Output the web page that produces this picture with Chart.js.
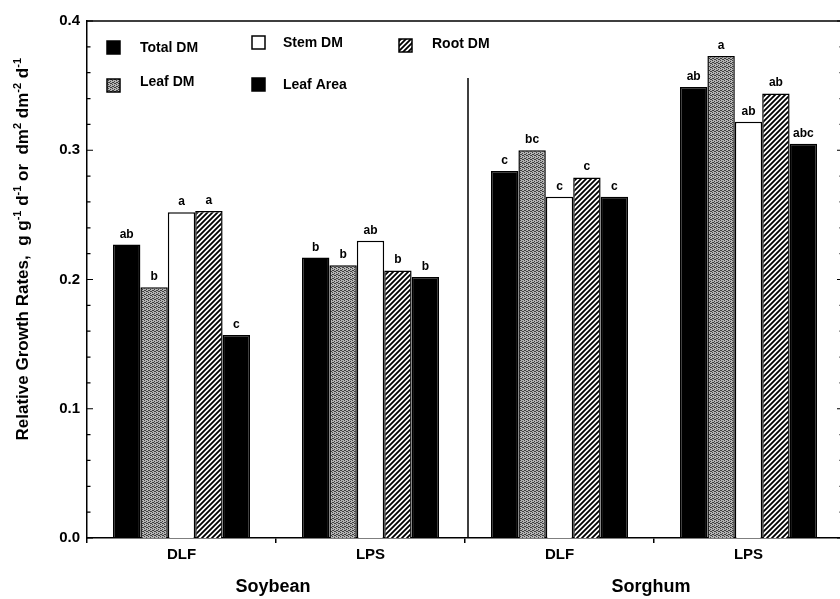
<!DOCTYPE html>
<html>
<head>
<meta charset="utf-8">
<title>Relative Growth Rates</title>
<script src="https://cdn.jsdelivr.net/npm/chart.js@4.4.0/dist/chart.umd.min.js"></script>
<style>
  html, body { margin: 0; padding: 0; background: #fff; overflow: hidden; }
  #wrap { width: 846px; height: 599px; }
</style>
</head>
<body>
<div id="wrap"><canvas id="rgr" width="846" height="599"></canvas></div>
<script>
// values
const groups = ['DLF', 'LPS', 'DLF', 'LPS'];
const crops = ['Soybean', 'Sorghum'];
const seriesNames = ['Total DM', 'Leaf DM', 'Stem DM', 'Root DM', 'Leaf Area'];
const totalDM = [0.227, 0.217, 0.284, 0.349];
const leafDM = [0.194, 0.211, 0.300, 0.373];
const stemDM = [0.252, 0.230, 0.264, 0.322];
const rootDM = [0.253, 0.207, 0.279, 0.344];
const leafArea = [0.157, 0.202, 0.264, 0.305];
const totalLetters = ['ab', 'b', 'c', 'ab'];
const leafLetters = ['b', 'b', 'bc', 'a'];
const stemLetters = ['a', 'ab', 'c', 'ab'];
const rootLetters = ['a', 'b', 'c', 'ab'];
const areaLetters = ['c', 'b', 'c', 'abc'];
const yTicks = [0.0, 0.1, 0.2, 0.3, 0.4];

const FONT = '"Liberation Sans", Arial, Helvetica, sans-serif';
Chart.defaults.font.family = FONT;
Chart.defaults.color = '#000';

const canvas = document.getElementById('rgr');
const ctx = canvas.getContext('2d');

function stipple() {
  const c = document.createElement('canvas');
  c.width = c.height = 4;
  const g = c.getContext('2d');
  g.fillStyle = '#b4b4b4';
  g.fillRect(0, 0, 4, 4);
  g.fillStyle = '#404040';
  [[0, 0], [2, 1], [1, 2], [3, 3], [2, 3], [0, 2]].forEach(([x, y]) => g.fillRect(x, y, 1, 1));
  return ctx.createPattern(c, 'repeat');
}

function hatch() {
  const c = document.createElement('canvas');
  c.width = c.height = 5;
  const g = c.getContext('2d');
  g.fillStyle = '#fff';
  g.fillRect(0, 0, 5, 5);
  g.strokeStyle = '#000';
  g.lineWidth = 1.8;
  g.beginPath();
  g.moveTo(-1, 6); g.lineTo(6, -1);
  g.moveTo(-1, 1); g.lineTo(1, -1);
  g.moveTo(4, 6); g.lineTo(6, 4);
  g.stroke();
  return ctx.createPattern(c, 'repeat');
}

const fills = ['#000', stipple(), '#fff', hatch(), '#000'];
const values = [totalDM, leafDM, stemDM, rootDM, leafArea];
const letters = [totalLetters, leafLetters, stemLetters, rootLetters, areaLetters];

// superscript-aware text pieces for the y title
const yTitle = [
  ['Relative Growth Rates,  g g', 0], ['-1', 1], [' d', 0], ['-1', 1],
  [' or  dm', 0], ['2', 1], [' dm', 0], ['-2', 1], [' d', 0], ['-1', 1]
];

const legendItems = [
  { i: 0, sx: 107, sy: 41, tx: 140, ty: 48 },
  { i: 2, sx: 252, sy: 36, tx: 283, ty: 43 },
  { i: 3, sx: 399, sy: 39, tx: 432, ty: 44 },
  { i: 1, sx: 107, sy: 79, tx: 140, ty: 82 },
  { i: 4, sx: 252, sy: 78, tx: 283, ty: 85 }
];

const decor = {
  id: 'decor',
  afterDatasetsDraw(chart) {
    const c = chart.ctx;
    const { left, right, top, bottom } = chart.chartArea;
    const xs = chart.scales.x, ys = chart.scales.y;
    c.save();

    // letters over bars
    c.font = 'bold 12px ' + FONT;
    c.textAlign = 'center';
    c.textBaseline = 'alphabetic';
    c.fillStyle = '#000';
    values.forEach((_, d) => {
      chart.getDatasetMeta(d).data.forEach((el, k) => {
        c.fillText(letters[d][k], el.x, el.y - 7);
      });
    });

    // frame: top line, right axis, divider
    c.strokeStyle = '#000';
    c.lineWidth = 1.5;
    c.beginPath();
    c.moveTo(left, top); c.lineTo(right, top);
    c.moveTo(right, top); c.lineTo(right, bottom);
    const mid = xs.getPixelForValue(1.5) + 3;
    c.moveTo(mid, 78); c.lineTo(mid, bottom);
    c.stroke();

    // inner ticks on both y axes
    c.lineWidth = 1.2;
    c.beginPath();
    for (let n = 0; n <= 20; n++) {
      const y = ys.getPixelForValue(n * 0.02);
      const len = n % 5 === 0 ? 6 : 3.5;
      c.moveTo(left, y); c.lineTo(left + len, y);
      c.moveTo(right, y); c.lineTo(right - len, y);
    }
    c.stroke();

    // crop names
    c.font = 'bold 18px ' + FONT;
    c.textBaseline = 'middle';
    crops.forEach((name, k) => {
      c.fillText(name, xs.getPixelForValue(k * 2 + 0.5) - 3, 587);
    });

    // legend
    c.textAlign = 'left';
    c.font = 'bold 14px ' + FONT;
    legendItems.forEach(it => {
      c.fillStyle = fills[it.i];
      c.fillRect(it.sx, it.sy, 13, 13);
      c.lineWidth = 1.5;
      c.strokeStyle = '#000';
      c.strokeRect(it.sx, it.sy, 13, 13);
      c.fillStyle = '#000';
      c.fillText(seriesNames[it.i], it.tx, it.ty);
    });

    // y title, rotated, with superscripts
    const big = 'bold 17px ' + FONT, small = 'bold 11px ' + FONT;
    let total = 0;
    yTitle.forEach(([t, sup]) => { c.font = sup ? small : big; total += c.measureText(t).width; });
    c.translate(28, 58 + total);
    c.rotate(-Math.PI / 2);
    c.textBaseline = 'alphabetic';
    let x = 0;
    yTitle.forEach(([t, sup]) => {
      c.font = sup ? small : big;
      c.fillText(t, x, sup ? -7 : 0);
      x += c.measureText(t).width;
    });
    c.restore();
  }
};

new Chart(canvas, {
  type: 'bar',
  data: {
    labels: groups,
    datasets: values.map((v, d) => ({
      label: seriesNames[d],
      data: v,
      backgroundColor: fills[d],
      borderColor: '#000',
      borderWidth: 1.5,
      categoryPercentage: 0.725,
      barPercentage: 1.0
    }))
  },
  options: {
    responsive: false,
    animation: false,
    layout: { padding: { left: 0, top: 21, right: 3, bottom: 0 } },
    plugins: { legend: { display: false }, tooltip: { enabled: false } },
    scales: {
      x: {
        grid: { display: true, drawOnChartArea: false, drawTicks: true, tickLength: 5, color: '#000', lineWidth: 1.5 },
        border: { display: true, color: '#000', width: 1.5 },
        ticks: { color: '#000', font: { size: 15, weight: 'bold' }, padding: 3 },
        afterFit: s => { s.height = 61; }
      },
      y: {
        min: 0,
        max: 0.4,
        afterBuildTicks: s => { s.ticks = yTicks.map(v => ({ value: v })); },
        grid: { display: false, drawTicks: false },
        border: { display: true, color: '#000', width: 1.5 },
        ticks: { color: '#000', font: { size: 15, weight: 'bold' }, padding: 7, callback: v => v.toFixed(1) },
        afterFit: s => { s.width = 87; }
      }
    }
  },
  plugins: [decor]
});
</script>
</body>
</html>
